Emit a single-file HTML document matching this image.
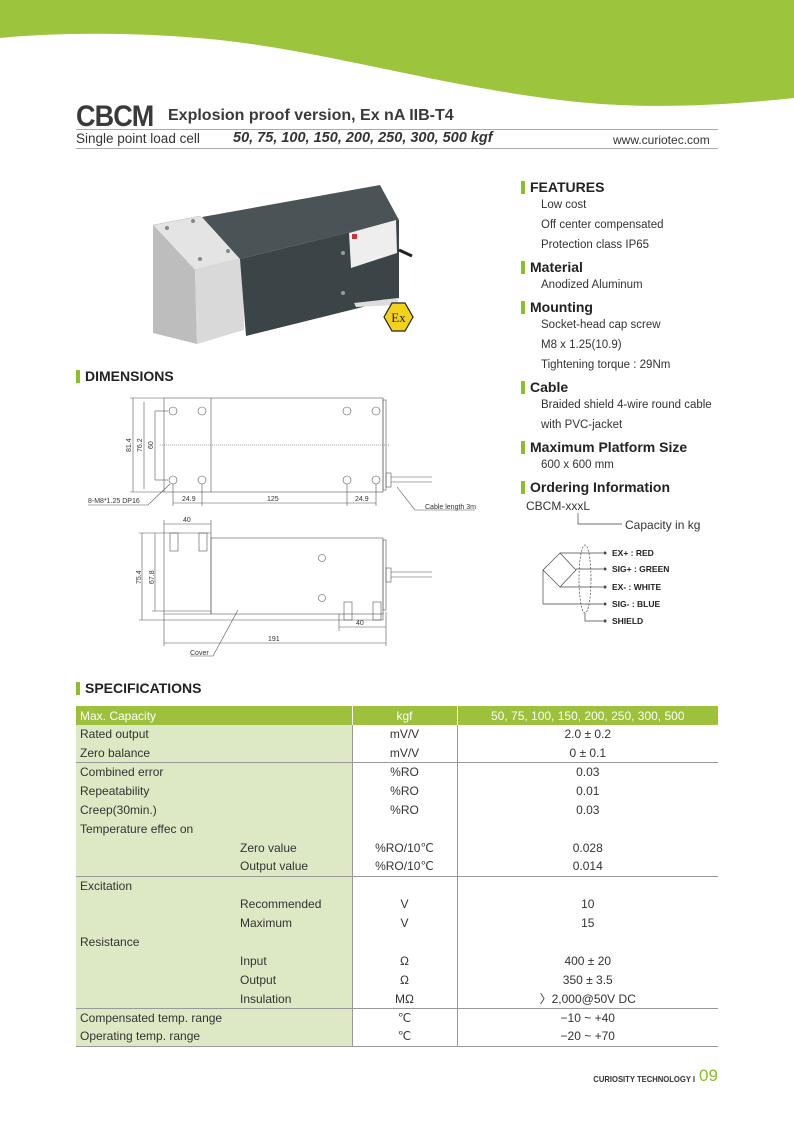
<!DOCTYPE html>
<html><head><meta charset="utf-8"><style>
*{margin:0;padding:0;box-sizing:border-box}
body{width:794px;height:1122px;position:relative;background:#fff;font-family:"Liberation Sans",sans-serif;color:#222;overflow:hidden}
.a{position:absolute;white-space:nowrap}
.h{position:absolute;font-weight:bold;font-size:14px;color:#222;padding-left:9px;white-space:nowrap}
.h:before{content:"";position:absolute;left:0;top:2px;width:4px;height:13px;background:#8cbd2a}
.t{position:absolute;font-size:11.5px;color:#333;white-space:nowrap}
table{position:absolute;left:76px;top:706px;width:642px;border-collapse:collapse;font-size:12px;color:#333}
td{height:18.9px;padding:0 4px;line-height:18px}
td.l{background:#dde8c4;width:276px}
td.u{text-align:center;width:105px;border-left:1px solid #999}
td.v{text-align:center;border-left:1px solid #999}
tr.hd td{background:#9dc13c;color:#fff;height:19px;border-left:1px solid #fff}
tr.b td{border-bottom:1px solid #999}
.ind{padding-left:164px}
</style></head><body>
<svg class="a" style="left:0;top:0" width="794" height="120"><path d="M0,0 H794 V98 C720,106 640,110 560,100 C430,84 330,52 220,40 C140,32 60,32 0,38 Z" fill="#9cc43c"/></svg>
<div class="a" style="left:76px;top:100px;font-size:30px;font-weight:bold;color:#3a3a3a;letter-spacing:-1px;transform:scaleX(0.9);transform-origin:left">CBCM</div>
<div class="a" style="left:168px;top:107px;font-size:16px;font-weight:bold;color:#3a3a3a">Explosion proof version, Ex nA IIB-T4</div>
<div class="a" style="left:76px;top:129px;width:642px;height:1px;background:#aaa"></div>
<div class="a" style="left:76px;top:131px;font-size:13.5px;color:#333">Single point load cell</div>
<div class="a" style="left:233px;top:130px;font-size:14.5px;font-weight:bold;font-style:italic;color:#333">50, 75, 100, 150, 200, 250, 300, 500 kgf</div>
<div class="a" style="left:613px;top:133px;font-size:12px;color:#333">www.curiotec.com</div>
<div class="a" style="left:76px;top:148px;width:642px;height:1px;background:#aaa"></div>

<svg class="a" style="left:140px;top:170px" width="290" height="180">
<polygon points="13,55 60,46 103,88 55,100" fill="#e4e4e4" stroke="#bbb" stroke-width=".5"/>
<polygon points="13,55 55,100 57,174 13,163" fill="#bdbdbd"/>
<polygon points="55,100 103,88 104,160 57,174" fill="#d9d9d9"/>
<polygon points="62,47 240,15 259,50 100,89" fill="#4a5356"/>
<polygon points="100,89 259,50 259,128 106,166" fill="#3b4447"/>
<polygon points="214,133 258,128 258,135 216,137" fill="#ddd"/>
<polygon points="209,63 256,50 257,83 211,98" fill="#eee"/>
<rect x="212" y="64" width="5" height="5" fill="#c33"/>
<circle cx="27" cy="58" r="2" fill="#888"/><circle cx="53" cy="51" r="2" fill="#888"/><circle cx="60" cy="89" r="2" fill="#888"/><circle cx="88" cy="81" r="2" fill="#888"/>
<circle cx="203" cy="83" r="2" fill="#999"/><circle cx="203" cy="123" r="2" fill="#999"/>
<path d="M259,80 L272,86" stroke="#222" stroke-width="3"/>
<polygon points="244,147 252,133 265,133 273,147 265,161 252,161" fill="#f3d21b" stroke="#222" stroke-width="1.2"/>
<text x="258.5" y="152" font-size="13" text-anchor="middle" font-family="Liberation Serif,serif" fill="#222">Ex</text>
</svg>

<div class="h" style="left:76px;top:368px">DIMENSIONS</div>

<svg class="a" style="left:0;top:0" width="794" height="1122" font-family="Liberation Sans,sans-serif" font-size="7" fill="#333">
<g stroke="#555" stroke-width=".6" fill="none">
<rect x="164" y="398" width="219" height="94"/><line x1="211" y1="398" x2="211" y2="492"/>
<rect x="383" y="400" width="3" height="90"/>
<g stroke-dasharray="1,1"><line x1="160" y1="445" x2="390" y2="445"/></g>
<circle cx="173" cy="411" r="4"/><circle cx="202" cy="411" r="4"/><circle cx="347" cy="411" r="4"/><circle cx="376" cy="411" r="4"/>
<circle cx="173" cy="480" r="4"/><circle cx="202" cy="480" r="4"/><circle cx="347" cy="480" r="4"/><circle cx="376" cy="480" r="4"/>
<line x1="133" y1="398" x2="133" y2="492"/><line x1="130" y1="398" x2="164" y2="398"/><line x1="130" y1="492" x2="164" y2="492"/>
<line x1="144" y1="402" x2="144" y2="489"/><line x1="155" y1="411" x2="155" y2="480"/><line x1="155" y1="411" x2="168" y2="411"/><line x1="155" y1="480" x2="168" y2="480"/>
<line x1="173" y1="484" x2="173" y2="506"/><line x1="202" y1="484" x2="202" y2="506"/><line x1="347" y1="484" x2="347" y2="506"/><line x1="376" y1="484" x2="376" y2="506"/>
<line x1="173" y1="503" x2="376" y2="503"/>
<polyline points="88,505 148,505 170,484"/>
<rect x="386" y="473" width="5" height="14"/><line x1="391" y1="477" x2="432" y2="477"/><line x1="391" y1="482" x2="432" y2="482"/>
<polyline points="397,487 415,510 475,510"/>
<rect x="211" y="538" width="172" height="76"/><polyline points="164,533 211,533 211,614 164,614 164,533"/>
<rect x="383" y="540" width="3" height="70"/><rect x="386" y="568" width="5" height="14"/><line x1="391" y1="572" x2="432" y2="572"/><line x1="391" y1="577" x2="432" y2="577"/>
<polyline points="339,614 339,620 383,620 383,612"/>
<rect x="170" y="533" width="8" height="18"/><rect x="199" y="533" width="8" height="18"/>
<rect x="344" y="602" width="8" height="18"/><rect x="373" y="602" width="8" height="18"/>
<circle cx="322" cy="558" r="3.5"/><circle cx="322" cy="598" r="3.5"/>
<line x1="164" y1="520" x2="164" y2="533"/><line x1="211" y1="520" x2="211" y2="533"/><line x1="164" y1="524" x2="211" y2="524"/>
<line x1="142" y1="533" x2="142" y2="620"/><line x1="139" y1="533" x2="164" y2="533"/><line x1="139" y1="620" x2="339" y2="620"/>
<line x1="155" y1="533" x2="155" y2="611"/><line x1="152" y1="611" x2="211" y2="611"/>
<line x1="339" y1="620" x2="339" y2="631"/><line x1="386" y1="612" x2="386" y2="646"/><line x1="339" y1="627" x2="386" y2="627"/>
<line x1="164" y1="614" x2="164" y2="646"/><line x1="164" y1="643" x2="386" y2="643"/>
<polyline points="190,656 213,656 238,610"/>
</g>
<text x="88" y="503">8-M8*1.25 DP16</text>
<text x="182" y="501">24.9</text><text x="267" y="501">125</text><text x="355" y="501">24.9</text>
<text x="425" y="509">Cable length 3m</text>
<text x="183" y="522">40</text><text x="356" y="625">40</text><text x="268" y="641">191</text><text x="190" y="655">Cover</text>
<text transform="translate(131,452) rotate(-90)">81.4</text><text transform="translate(142,452) rotate(-90)">76.2</text><text transform="translate(153,449) rotate(-90)">60</text>
<text transform="translate(141,584) rotate(-90)">75.4</text><text transform="translate(154,584) rotate(-90)">67.8</text>

<g stroke="#444" stroke-width=".7" fill="none">
<polygon points="543,570 560,553 576,570 560,587"/>
<ellipse cx="585" cy="579" rx="6" ry="34" stroke-dasharray="2,1.5"/>
<line x1="560" y1="553" x2="603" y2="553"/><line x1="576" y1="569" x2="603" y2="569"/><line x1="560" y1="587" x2="603" y2="587"/>
<polyline points="543,570 543,604 603,604"/><polyline points="585,613 585,621 603,621"/>
<polyline points="578,513 578,524 622,524"/>
</g>
<g fill="#444"><circle cx="605" cy="553" r="1.5"/><circle cx="605" cy="569" r="1.5"/><circle cx="605" cy="587" r="1.5"/><circle cx="605" cy="604" r="1.5"/><circle cx="605" cy="621" r="1.5"/></g>
<g font-size="8.5" font-weight="bold" fill="#222"><text x="612" y="556">EX+ : RED</text><text x="612" y="572">SIG+ : GREEN</text><text x="612" y="590">EX- : WHITE</text><text x="612" y="607">SIG- : BLUE</text><text x="612" y="624">SHIELD</text></g>
</svg>

<div class="h" style="left:521px;top:179px">FEATURES</div>
<div class="t" style="left:541px;top:199px">Low cost</div>
<div class="t" style="left:541px;top:219px">Off center compensated</div>
<div class="t" style="left:541px;top:239px">Protection class IP65</div>
<div class="h" style="left:521px;top:259px">Material</div>
<div class="t" style="left:541px;top:279px">Anodized Aluminum</div>
<div class="h" style="left:521px;top:299px">Mounting</div>
<div class="t" style="left:541px;top:319px">Socket-head cap screw</div>
<div class="t" style="left:541px;top:339px">M8 x 1.25(10.9)</div>
<div class="t" style="left:541px;top:359px">Tightening torque : 29Nm</div>
<div class="h" style="left:521px;top:379px">Cable</div>
<div class="t" style="left:541px;top:399px">Braided shield 4-wire round cable</div>
<div class="t" style="left:541px;top:419px">with PVC-jacket</div>
<div class="h" style="left:521px;top:439px">Maximum Platform Size</div>
<div class="t" style="left:541px;top:459px">600 x 600 mm</div>
<div class="h" style="left:521px;top:479px">Ordering Information</div>
<div class="t" style="left:526px;top:499px;font-size:12px">CBCM-xxxL</div>
<div class="t" style="left:625px;top:518px;font-size:12px">Capacity in kg</div>

<div class="h" style="left:76px;top:680px">SPECIFICATIONS</div>
<table>
<tr class="hd"><td class="l" style="background:#9dc13c;border-left:0">Max. Capacity</td><td class="u">kgf</td><td class="v">50, 75, 100, 150, 200, 250, 300, 500</td></tr>
<tr><td class="l">Rated output</td><td class="u">mV/V</td><td class="v">2.0 ± 0.2</td></tr>
<tr class="b"><td class="l">Zero balance</td><td class="u">mV/V</td><td class="v">0 ± 0.1</td></tr>
<tr><td class="l">Combined error</td><td class="u">%RO</td><td class="v">0.03</td></tr>
<tr><td class="l">Repeatability</td><td class="u">%RO</td><td class="v">0.01</td></tr>
<tr><td class="l">Creep(30min.)</td><td class="u">%RO</td><td class="v">0.03</td></tr>
<tr><td class="l">Temperature effec on</td><td class="u"></td><td class="v"></td></tr>
<tr><td class="l ind">Zero value</td><td class="u">%RO/10℃</td><td class="v">0.028</td></tr>
<tr class="b"><td class="l ind">Output value</td><td class="u">%RO/10℃</td><td class="v">0.014</td></tr>
<tr><td class="l">Excitation</td><td class="u"></td><td class="v"></td></tr>
<tr><td class="l ind">Recommended</td><td class="u">V</td><td class="v">10</td></tr>
<tr><td class="l ind">Maximum</td><td class="u">V</td><td class="v">15</td></tr>
<tr><td class="l">Resistance</td><td class="u"></td><td class="v"></td></tr>
<tr><td class="l ind">Input</td><td class="u">Ω</td><td class="v">400 ± 20</td></tr>
<tr><td class="l ind">Output</td><td class="u">Ω</td><td class="v">350 ± 3.5</td></tr>
<tr class="b"><td class="l ind">Insulation</td><td class="u">MΩ</td><td class="v">〉2,000@50V DC</td></tr>
<tr><td class="l">Compensated temp. range</td><td class="u">℃</td><td class="v">−10 ~ +40</td></tr>
<tr class="b"><td class="l">Operating temp. range</td><td class="u">℃</td><td class="v">−20 ~ +70</td></tr>
</table>

<div class="a" style="right:99px;top:1074px;font-size:8.5px;font-weight:bold;color:#333;transform:scaleX(0.9);transform-origin:right">CURIOSITY TECHNOLOGY I</div>
<div class="a" style="left:699px;top:1066px;font-size:17px;color:#8cbd2a">09</div>
</body></html>
